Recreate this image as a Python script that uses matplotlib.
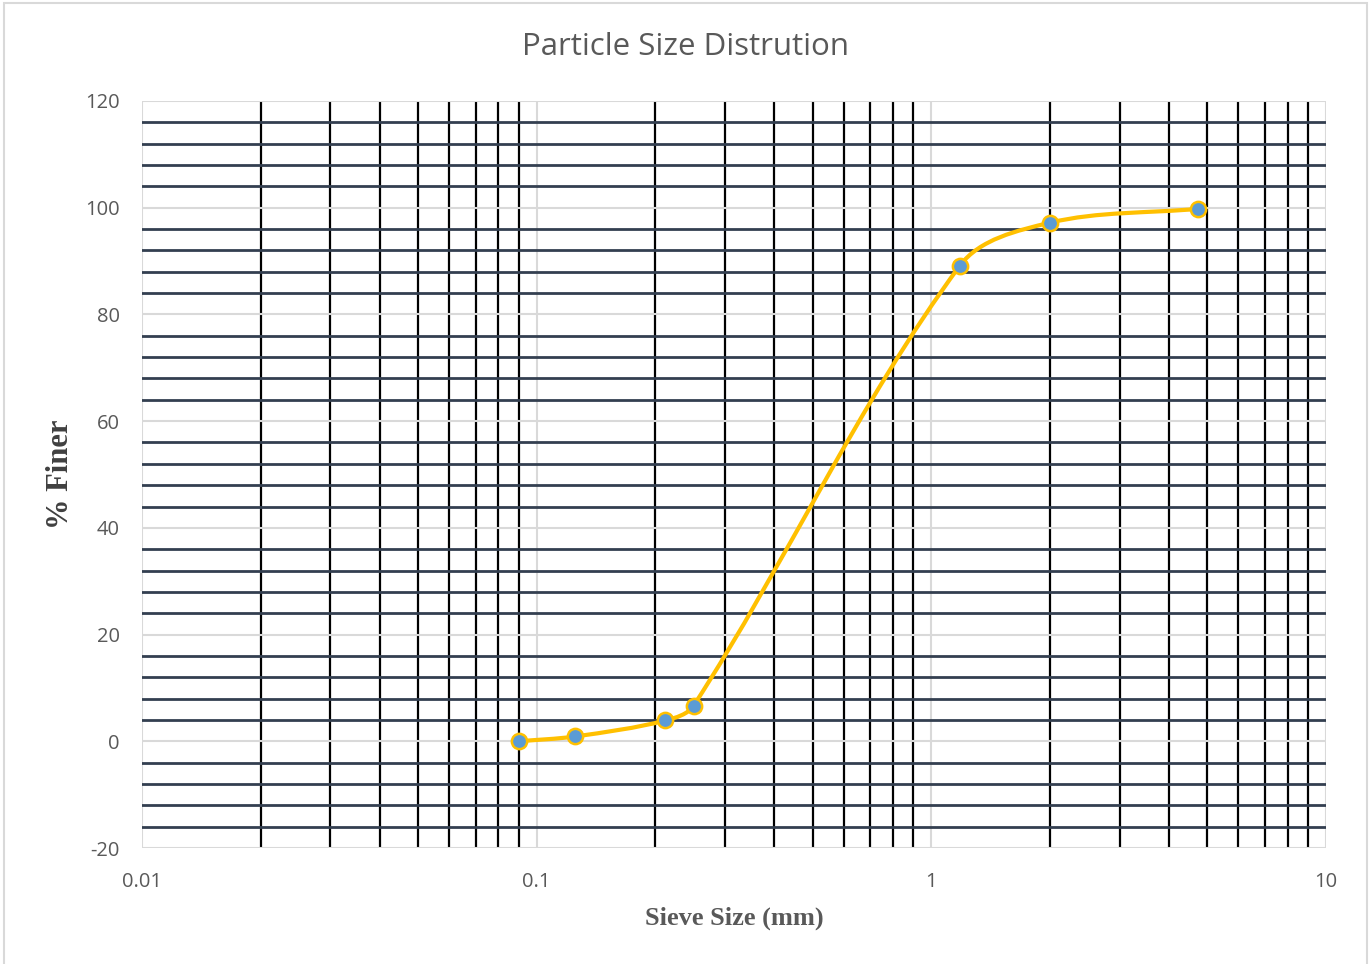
import numpy as np
import matplotlib
matplotlib.use("Agg")
import matplotlib.pyplot as plt
from matplotlib.path import Path
from matplotlib.patches import PathPatch, Rectangle
from matplotlib.ticker import LogLocator, FixedLocator, NullFormatter

plt.rcParams["axes.unicode_minus"] = False

# sieve data
sieve_mm = [0.09, 0.125, 0.212, 0.25, 1.18, 2.0, 4.75]
pct_finer = [0.0, 0.9, 3.9, 6.7, 89.1, 97.2, 99.8]

title = "Particle Size Distrution"
x_label = "Sieve Size (mm)"
y_label = "% Finer"
x_ticks = [0.01, 0.1, 1, 10]
x_tick_labels = ["0.01", "0.1", "1", "10"]
y_ticks = [-20, 0, 20, 40, 60, 80, 100, 120]

text_gray = "#595959"
line_color = "#ffc000"
marker_color = "#5b9bd5"

fig = plt.figure(figsize=(13.72, 9.64), dpi=100)
ax = fig.add_axes([142 / 1372, 1 - 848 / 964, (1326 - 142) / 1372, (848 - 101) / 964])

ax.set_xscale("log")
ax.set_xlim(0.01, 10)
ax.set_ylim(-20, 120)

# grids: light gray majors, dark minors
ax.xaxis.set_major_locator(FixedLocator(x_ticks))
ax.xaxis.set_minor_locator(LogLocator(base=10, subs=np.arange(2, 10)))
ax.xaxis.set_minor_formatter(NullFormatter())
ax.set_xticks(x_ticks)
ax.set_xticklabels(x_tick_labels)
ax.set_yticks(y_ticks)
ax.set_yticklabels([str(v) for v in y_ticks])
ax.set_yticks([v for v in np.arange(-20, 121, 4) if v % 20 != 0], minor=True)

ax.grid(which="major", color="#d9d9d9", linewidth=1.5)
ax.xaxis.grid(which="minor", color="#000000", linewidth=1.6)
ax.yaxis.grid(which="minor", color="#333f50", linewidth=2.0)
ax.set_axisbelow(True)
for s in ax.spines.values():
    s.set_visible(False)
ax.tick_params(which="both", length=0)
ax.tick_params(axis="x", pad=17, labelsize=14.5, labelcolor=text_gray)
ax.tick_params(axis="y", pad=16, labelsize=14.5, labelcolor=text_gray)
for lbl in ax.get_xticklabels() + ax.get_yticklabels():
    lbl.set_fontfamily("Open Sans")

# smoothed line, bezier in display space; tangent scaled by segment length
pts = ax.transData.transform(np.column_stack([sieve_mm, pct_finer]))
n = len(pts)

def tangent(i):
    a = pts[max(i - 1, 0)]
    b = pts[min(i + 1, n - 1)]
    d = b - a
    return d / np.hypot(*d)

verts = [pts[0]]
codes = [Path.MOVETO]
for i in range(n - 1):
    p1, p2 = pts[i], pts[i + 1]
    seg = np.hypot(*(p2 - p1)) / 3.0
    verts += [p1 + tangent(i) * seg, p2 - tangent(i + 1) * seg, p2]
    codes += [Path.CURVE4] * 3
verts = ax.transData.inverted().transform(np.array(verts))
curve = PathPatch(Path(verts, codes), facecolor="none", edgecolor=line_color,
                  linewidth=3, capstyle="round", joinstyle="round", zorder=3)
ax.add_patch(curve)

ax.plot(sieve_mm, pct_finer, linestyle="none", marker="o", markersize=11,
        markerfacecolor=marker_color, markeredgecolor=line_color,
        markeredgewidth=1.8, zorder=4)

fig.text(686 / 1372, 1 - 47 / 964, title, ha="center", va="center",
         fontsize=22.5, color=text_gray, family="Open Sans")
fig.text(734 / 1372, 1 - 918 / 964, x_label, ha="center", va="center",
         fontsize=19, fontweight="bold", color=text_gray, family="Liberation Serif")
fig.text(60 / 1372, 1 - 474 / 964, y_label, ha="center", va="center", rotation=90,
         fontsize=22, fontweight="bold", color="#404040", family="Liberation Serif")

# chart border
fig.patches.append(Rectangle((4 / 1372, -0.01), 1363 / 1372, 1 - 3 / 964 + 0.01,
                             transform=fig.transFigure, fill=False,
                             edgecolor="#d9d9d9", linewidth=1.5))

fig.savefig("out.png", dpi=100)
